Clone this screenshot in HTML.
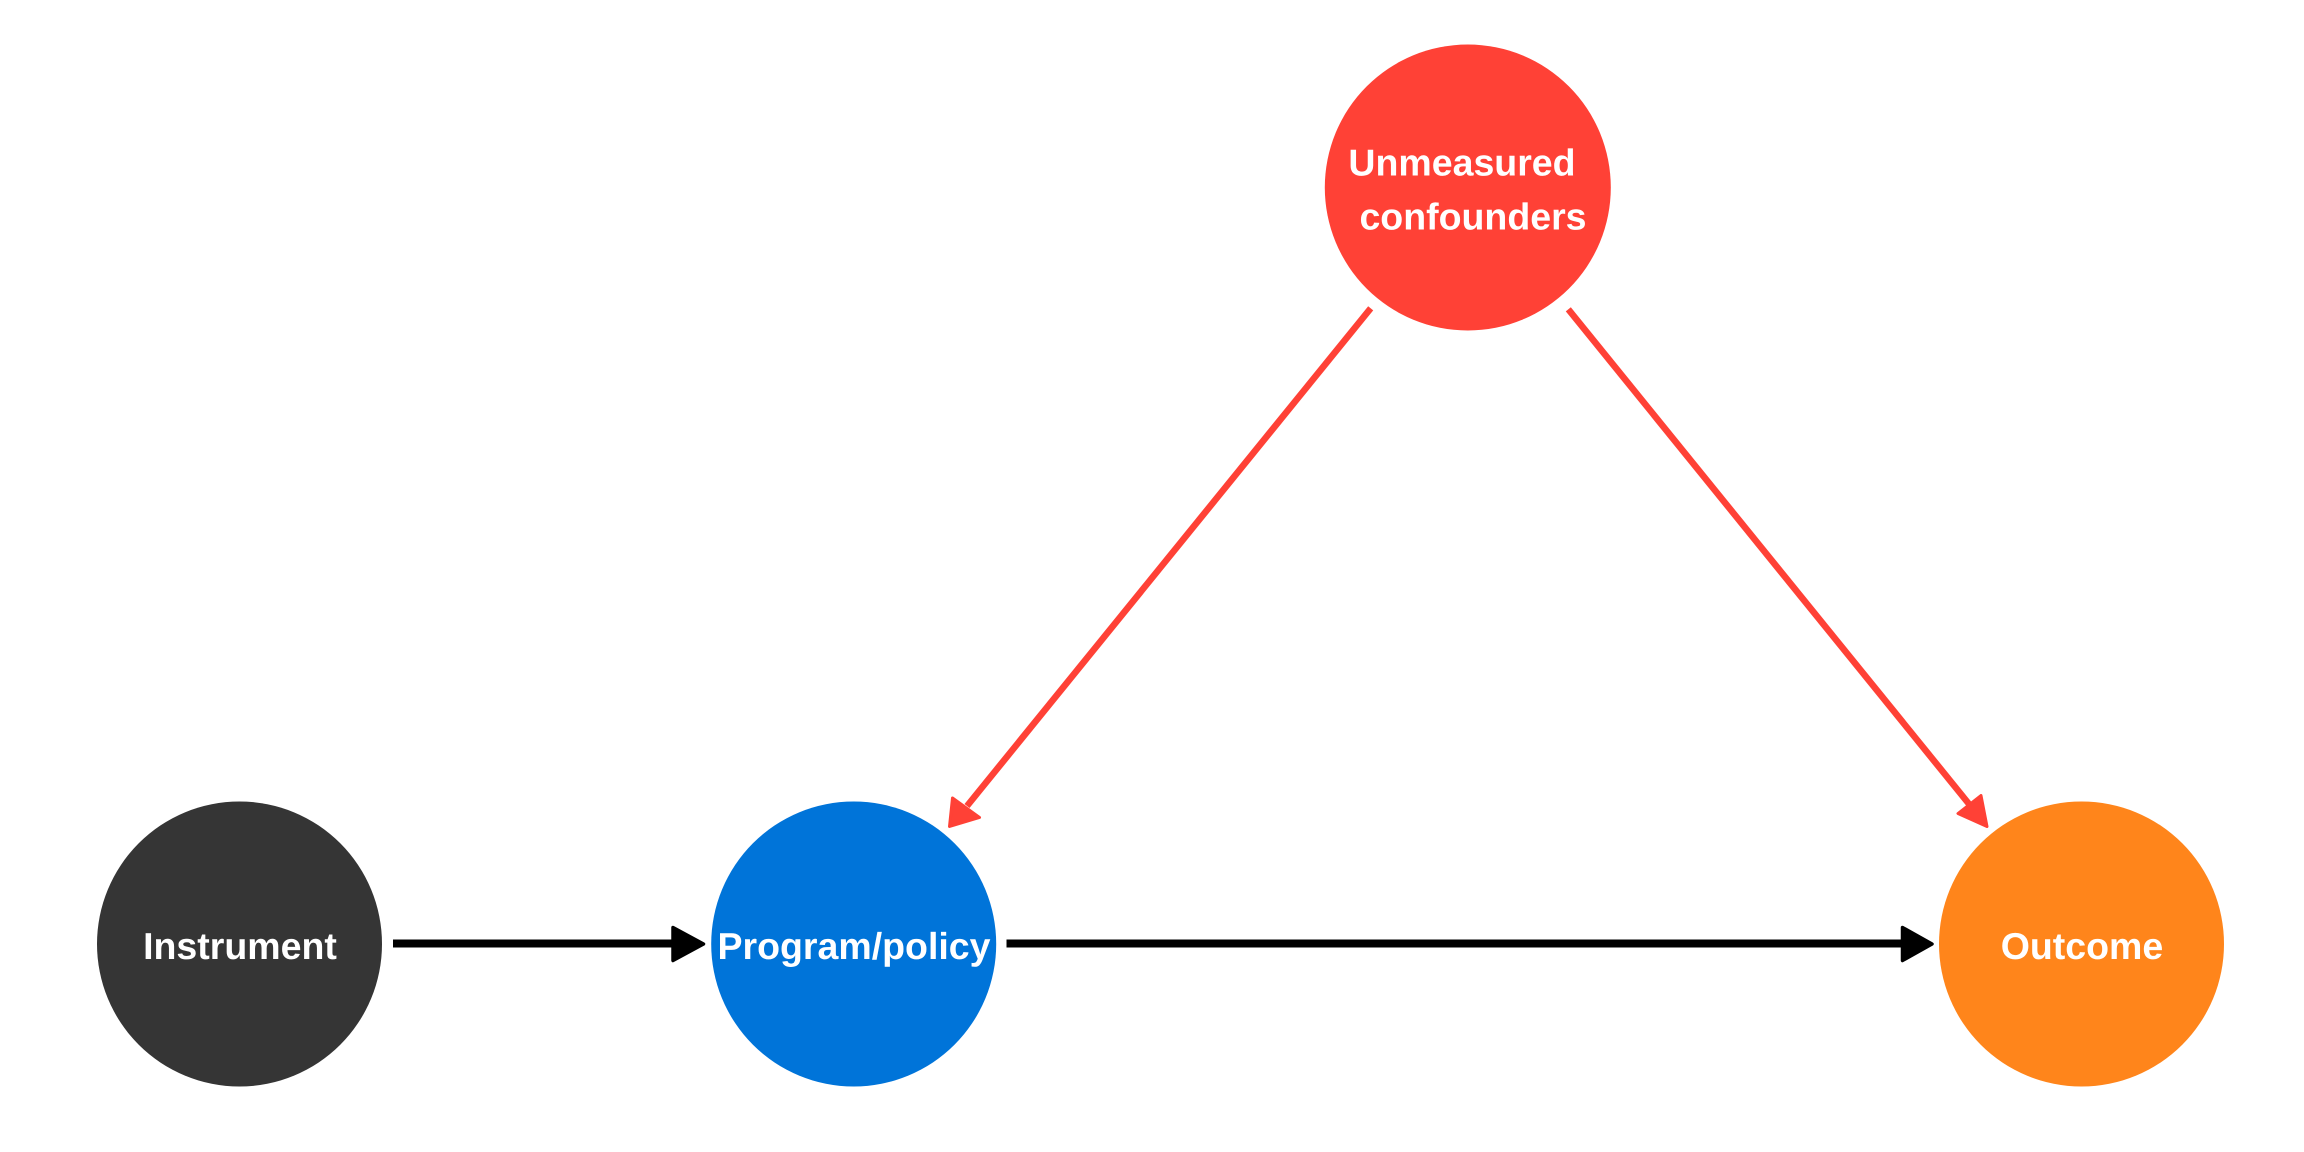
<!DOCTYPE html>
<html>
<head>
<meta charset="utf-8">
<style>
  html, body { margin:0; padding:0; background:#ffffff; }
  body { width:2304px; height:1152px; overflow:hidden; }
  svg { display:block; }
  text { font-family:"Liberation Sans", Arial, sans-serif; font-weight:bold; font-size:37.5px; fill:#ffffff; text-rendering:geometricPrecision; }
</style>
</head>
<body>
<svg width="2304" height="1152" viewBox="0 0 2304 1152" xmlns="http://www.w3.org/2000/svg">
  <rect x="0" y="0" width="2304" height="1152" fill="#ffffff"/>

  <!-- Nodes -->
  <circle cx="239.5" cy="944" r="142.5" fill="#353535"/>
  <circle cx="853.7" cy="944" r="142.5" fill="#0074D9"/>
  <circle cx="2081.5" cy="944" r="142.5" fill="#FF851B"/>
  <circle cx="1467.8" cy="187.5" r="143" fill="#FF4136"/>

  <!-- Black arrows -->
  <line x1="393" y1="943.5" x2="674" y2="943.5" stroke="#000000" stroke-width="8"/>
  <polygon points="673,927.5 703.5,944 673,960.5" fill="#000000" stroke="#000000" stroke-width="3.5" stroke-linejoin="round"/>

  <line x1="1006.5" y1="943.5" x2="1904" y2="943.5" stroke="#000000" stroke-width="8"/>
  <polygon points="1902.5,927.5 1932,944 1902.5,960.5" fill="#000000" stroke="#000000" stroke-width="3.5" stroke-linejoin="round"/>

  <!-- Red arrows -->
  <line x1="1370.7" y1="308.3" x2="967" y2="806" stroke="#FF4136" stroke-width="6.5"/>
  <polygon points="949.5,826.5 952.5,798 979.5,817.5" fill="#FF4136" stroke="#FF4136" stroke-width="3" stroke-linejoin="round"/>

  <line x1="1568.3" y1="309.3" x2="1969" y2="804" stroke="#FF4136" stroke-width="6.5"/>
  <polygon points="1987,826.5 1981,795.5 1958,813.5" fill="#FF4136" stroke="#FF4136" stroke-width="3" stroke-linejoin="round"/>

  <!-- Labels -->
  <text x="240" y="959" text-anchor="middle">Instrument</text>
  <text x="854" y="959" text-anchor="middle">Program/policy</text>
  <text x="2082" y="959" text-anchor="middle">Outcome</text>
  <text x="1462" y="175.7" text-anchor="middle">Unmeasured</text>
  <text x="1473" y="229.3" text-anchor="middle">confounders</text>
</svg>
</body>
</html>
